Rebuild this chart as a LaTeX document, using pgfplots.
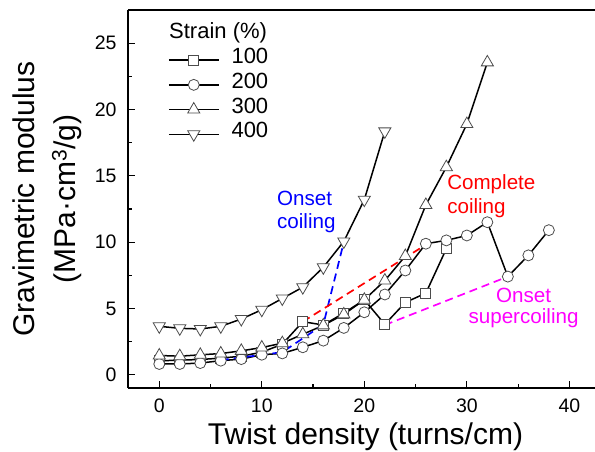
\documentclass[border=0pt]{standalone}
\usepackage{fontspec}
\setmainfont{Liberation Sans}
\usepackage{pgfplots}
\pgfplotsset{compat=1.18}
\definecolor{mkedge}{gray}{0.3}
\definecolor{cblue}{RGB}{0,0,255}
\definecolor{cred}{RGB}{255,0,0}
\definecolor{cmag}{RGB}{255,0,255}
\begin{document}
\begin{tikzpicture}
\begin{axis}[
  at={(0,0)}, anchor=south west,
  scale only axis, width=467bp, height=378bp,
  xmin=-3.05, xmax=42.5, ymin=-1, ymax=27.5,
  axis x line=box, axis y line=left,
  x axis line style={-}, y axis line style={-},
  axis line style={line width=1.6bp},
  xtick={0,10,20,30,40}, ytick={0,5,10,15,20,25},
  minor x tick num=1, minor y tick num=1,
  xtick pos=bottom, ytick pos=left,
  tick align=inside,
  major tick length=7bp, minor tick length=4bp,
  tick style={line width=1.2bp, black},
  /pgf/number format/assume math mode=true,
  ticklabel style={font=\fontsize{19.5bp}{21bp}\selectfont},
  xticklabel style={yshift=-7bp},
  yticklabel style={xshift=-8bp},
  xlabel={Twist density (turns/cm)},
  ylabel={Gravimetric modulus\\(MPa·cm\textsuperscript{3}/g)},
  xlabel style={font=\fontsize{30bp}{34bp}\selectfont, yshift=-4bp, xshift=4bp},
  ylabel style={font=\fontsize{30bp}{41bp}\selectfont, align=center},
  ylabel shift=6bp,
  legend cell align=left,
  legend style={draw=none, fill=none, inner sep=0pt, outer sep=0pt,
    at={(0.0857,0.900)}, anchor=north west,
    font=\fontsize{22bp}{24bp}\selectfont,
    nodes={inner sep=0pt, text height=16bp, text depth=8.7bp},
    column sep=12bp},
  legend image code/.code={\draw[mark repeat=2,mark phase=2] plot coordinates {(0bp,0bp) (25bp,0bp) (50bp,0bp)};},
  every axis plot/.append style={line width=1.5bp, black},
  clip=false,
]
\addplot[mark=square*, mark size=5bp, mark options={fill=white, draw=mkedge, line width=0.8bp}]
coordinates {(0,1.05)(2,1.1)(4,1.15)(6,1.25)(8,1.4)(10,1.7)(12,2.3)(14,4.0)(16,3.75)(18,4.65)(20,5.65)(22,3.8)(24,5.45)(26,6.15)(28,9.5)};
\addlegendentry{100}
\addplot[mark=*, mark size=5.5bp, mark options={fill=white, draw=mkedge, line width=0.8bp}]
coordinates {(0,0.81)(2,0.81)(4,0.88)(6,1.06)(8,1.18)(10,1.51)(12,1.61)(14,2.07)(16,2.57)(18,3.53)(20,4.71)(22,6.05)(24,7.86)(26,9.88)(28,10.13)(30,10.5)(32,11.5)(34,7.4)(36,9.0)(38,10.9)};
\addlegendentry{200}
\addplot[mark=triangle*, mark size=7bp, mark options={fill=white, draw=mkedge, line width=0.8bp}]
coordinates {(0,1.45)(2,1.4)(4,1.5)(6,1.6)(8,1.8)(10,2.05)(12,2.38)(14,3.05)(16,3.72)(18,4.55)(20,5.65)(22,7.1)(24,8.95)(26,12.8)(28,15.65)(30,18.9)(32,23.55)};
\addlegendentry{300}
\addplot[mark=triangle*, mark size=7bp, mark options={fill=white, draw=mkedge, line width=0.8bp, rotate=180}]
coordinates {(0,3.65)(2,3.5)(4,3.45)(6,3.65)(8,4.2)(10,4.9)(12,5.75)(14,6.6)(16,8.1)(18,10.05)(20,13.2)(22,18.35)};
\addlegendentry{400}
\addplot[forget plot, cblue, dash pattern=on 8bp off 5bp, line width=1.7bp, mark=none]
coordinates {(6,1.1)(12,1.7)(16,3.78)(18,10.0)};
\addplot[forget plot, cred, dash pattern=on 8bp off 5bp, line width=1.7bp, mark=none]
coordinates {(14,4.0)(26,9.8)};
\addplot[forget plot, cmag, dash pattern=on 8bp off 5bp, line width=1.7bp, mark=none]
coordinates {(22,3.75)(34,7.4)};
\node[anchor=west, inner sep=0pt, font=\fontsize{22bp}{24bp}\selectfont] at (axis description cs:0.0878,0.939) {Strain (\%)};
\node[anchor=west, inner sep=0pt, align=left, text=cblue, font=\fontsize{20.6bp}{23bp}\selectfont] at (axis cs:11.48,12.25) {Onset\\coiling};
\node[anchor=west, inner sep=0pt, align=left, text=cred, font=\fontsize{20.6bp}{24bp}\selectfont] at (axis cs:28.07,13.5) {Complete\\coiling};
\node[inner sep=0pt, align=center, text=cmag, font=\fontsize{20.6bp}{21bp}\selectfont] at (axis cs:35.53,5.0) {Onset\\supercoiling};
\end{axis}
\pgfresetboundingbox
\path[use as bounding box] (-128bp,-64bp) rectangle (467bp,388bp);
\end{tikzpicture}
\end{document}
